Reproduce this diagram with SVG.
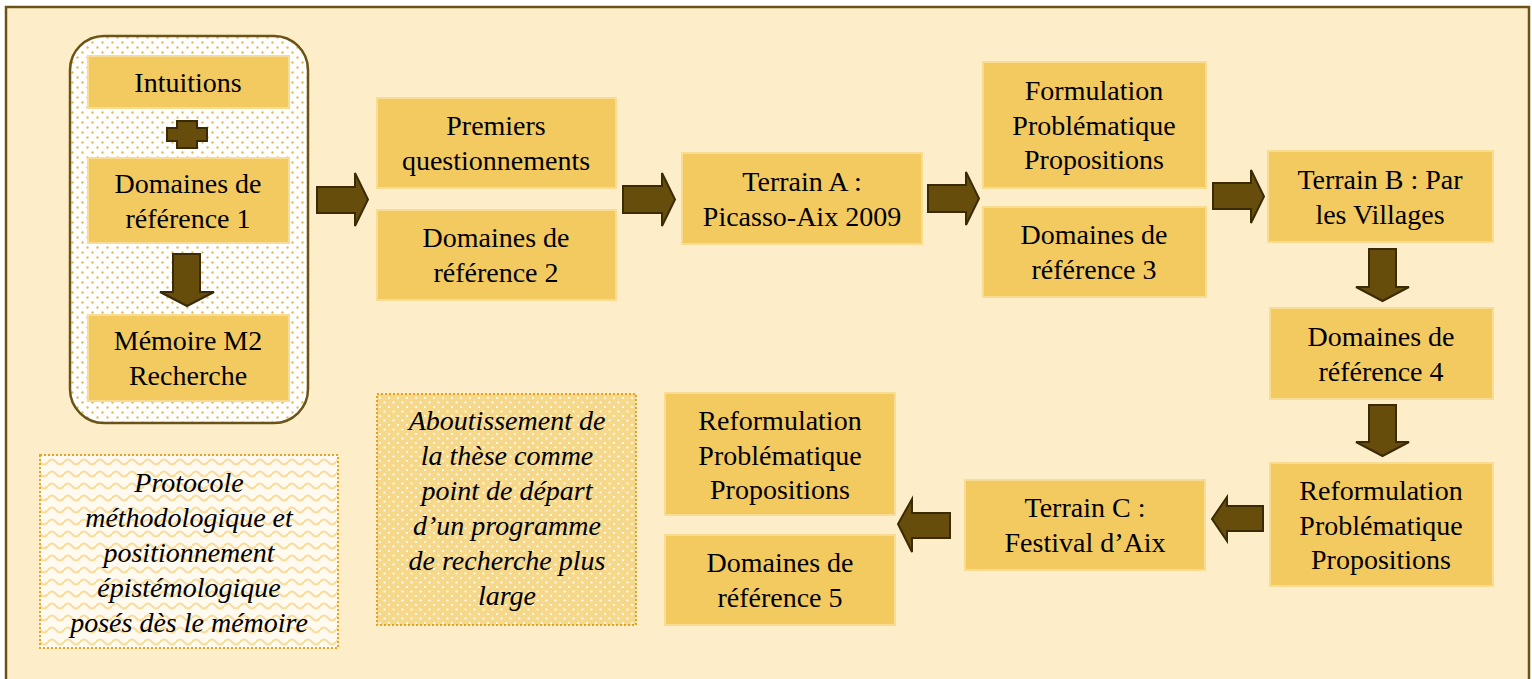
<svg xmlns="http://www.w3.org/2000/svg" width="1532" height="679" viewBox="0 0 1532 679">
<defs>
<pattern id="dots" width="10" height="10" patternUnits="userSpaceOnUse">
<rect width="10" height="10" fill="#ffffff"/>
<circle cx="2.5" cy="2.5" r="1.2" fill="#e8bb4f"/>
<circle cx="7.5" cy="7.5" r="1.2" fill="#e8bb4f"/>
</pattern>
<pattern id="wdots" width="9" height="9" patternUnits="userSpaceOnUse">
<rect width="9" height="9" fill="#f5d88a"/>
<circle cx="2" cy="2" r="1.1" fill="#ffffff"/>
<circle cx="6.5" cy="6.5" r="1.1" fill="#ffffff"/>
</pattern>
<pattern id="wave" width="16" height="12" patternUnits="userSpaceOnUse">
<rect width="16" height="12" fill="#fffaf0"/>
<path d="M0,6 Q4,1 8,6 T16,6" fill="none" stroke="#f8dd9c" stroke-width="2.2"/>
</pattern>
</defs>
<rect x="6" y="7" width="1523" height="690" fill="#fdedc9" stroke="#6b5318" stroke-width="2.5"/>

<g id="container1">
<rect x="70" y="36" width="238" height="387" rx="34" fill="url(#dots)" stroke="#6b5318" stroke-width="2.5"/>
</g>

<g id="shapes" fill="#f2ca5f" stroke="#f8dc93" stroke-width="2">
<rect id="intuitions" x="88" y="56" width="201" height="52"/>
<rect id="domaines1" x="88" y="158" width="201" height="85"/>
<rect id="memoire" x="88" y="315" width="201" height="86"/>
<rect id="premiers" x="377" y="98" width="239" height="90"/>
<rect id="domaines2" x="377" y="210" width="239" height="90"/>
<rect id="terrainA" x="682" y="153" width="240" height="91"/>
<rect id="formulation" x="983" y="62" width="223" height="126"/>
<rect id="domaines3" x="983" y="207" width="223" height="90"/>
<rect id="terrainB" x="1268" y="151" width="225" height="91"/>
<rect id="domaines4" x="1270" y="308" width="223" height="91"/>
<rect id="reformulation2" x="1270" y="463" width="223" height="123"/>
<rect id="terrainC" x="965" y="480" width="240" height="90"/>
<rect id="reformulation1" x="665" y="393" width="230" height="122"/>
<rect id="domaines5" x="665" y="535" width="230" height="90"/>
</g>
<g id="notes" stroke="#e3a327" stroke-width="2" stroke-dasharray="2 2">
<rect id="protocole" x="40" y="455" width="298" height="193" fill="url(#wave)"/>
<rect id="aboutissement" x="377" y="394" width="259" height="231" fill="url(#wdots)"/>
</g>

<g id="labels" font-family="Liberation Serif" font-size="28" text-anchor="middle" fill="#000000">
<text x="188" y="92">Intuitions</text>
<text x="188" y="193">Domaines de</text>
<text x="188" y="228">référence 1</text>
<text x="188" y="350">Mémoire M2</text>
<text x="188" y="385">Recherche</text>
<text x="496" y="135">Premiers</text>
<text x="496" y="170">questionnements</text>
<text x="496" y="247">Domaines de</text>
<text x="496" y="282">référence 2</text>
<text x="802" y="191">Terrain A :</text>
<text x="802" y="226">Picasso-Aix 2009</text>
<text x="1094" y="100">Formulation</text>
<text x="1094" y="135">Problématique</text>
<text x="1094" y="169">Propositions</text>
<text x="1094" y="244">Domaines de</text>
<text x="1094" y="279">référence 3</text>
<text x="1380" y="189">Terrain B : Par</text>
<text x="1380" y="224">les Villages</text>
<text x="1381" y="346">Domaines de</text>
<text x="1381" y="381">référence 4</text>
<text x="1381" y="500">Reformulation</text>
<text x="1381" y="535">Problématique</text>
<text x="1381" y="569">Propositions</text>
<text x="1085" y="517">Terrain C :</text>
<text x="1085" y="552">Festival d’Aix</text>
<text x="780" y="430">Reformulation</text>
<text x="780" y="465">Problématique</text>
<text x="780" y="499">Propositions</text>
<text x="780" y="572">Domaines de</text>
<text x="780" y="607">référence 5</text>
<g font-style="italic">
<text x="189" y="492">Protocole</text>
<text x="189" y="527">méthodologique et</text>
<text x="189" y="562">positionnement</text>
<text x="189" y="597">épistémologique</text>
<text x="189" y="632">posés dès le mémoire</text>
<text x="507" y="430">Aboutissement de</text>
<text x="507" y="465">la thèse comme</text>
<text x="507" y="500">point de départ</text>
<text x="507" y="535">d’un programme</text>
<text x="507" y="570">de recherche plus</text>
<text x="507" y="605">large</text>
</g>
</g>

<g id="connectors" fill="#664d0b" stroke="#3a2b05" stroke-width="2">
<path d="M177,121 H197 V128 H207 V141 H197 V148 H177 V141 H167 V128 H177 Z"/>
<path d="M173,254 H200 V292 H214 L187,306 L160,292 H173 Z"/>
<path d="M317,187 H355 V173 L368,199.5 L355,226 V213 H317 Z"/>
<path d="M623,186 H662 V173 L675,199.5 L662,226 V213 H623 Z"/>
<path d="M928,185 H966 V172 L979,198.5 L966,225 V212 H928 Z"/>
<path d="M1213,183 H1251 V170 L1264,196.5 L1251,223 V209 H1213 Z"/>
<path d="M1369,249 H1396 V287 H1409 L1382.5,301 L1356,287 H1369 Z"/>
<path d="M1369,405 H1396 V442 H1409 L1382.5,456 L1356,442 H1369 Z"/>
<path d="M1263,506 H1227 V497 L1212,519 L1227,541 V531 H1263 Z"/>
<path d="M950,513 H912 V499 L898,524 L912,552 V538 H950 Z"/>
</g>
</svg>
